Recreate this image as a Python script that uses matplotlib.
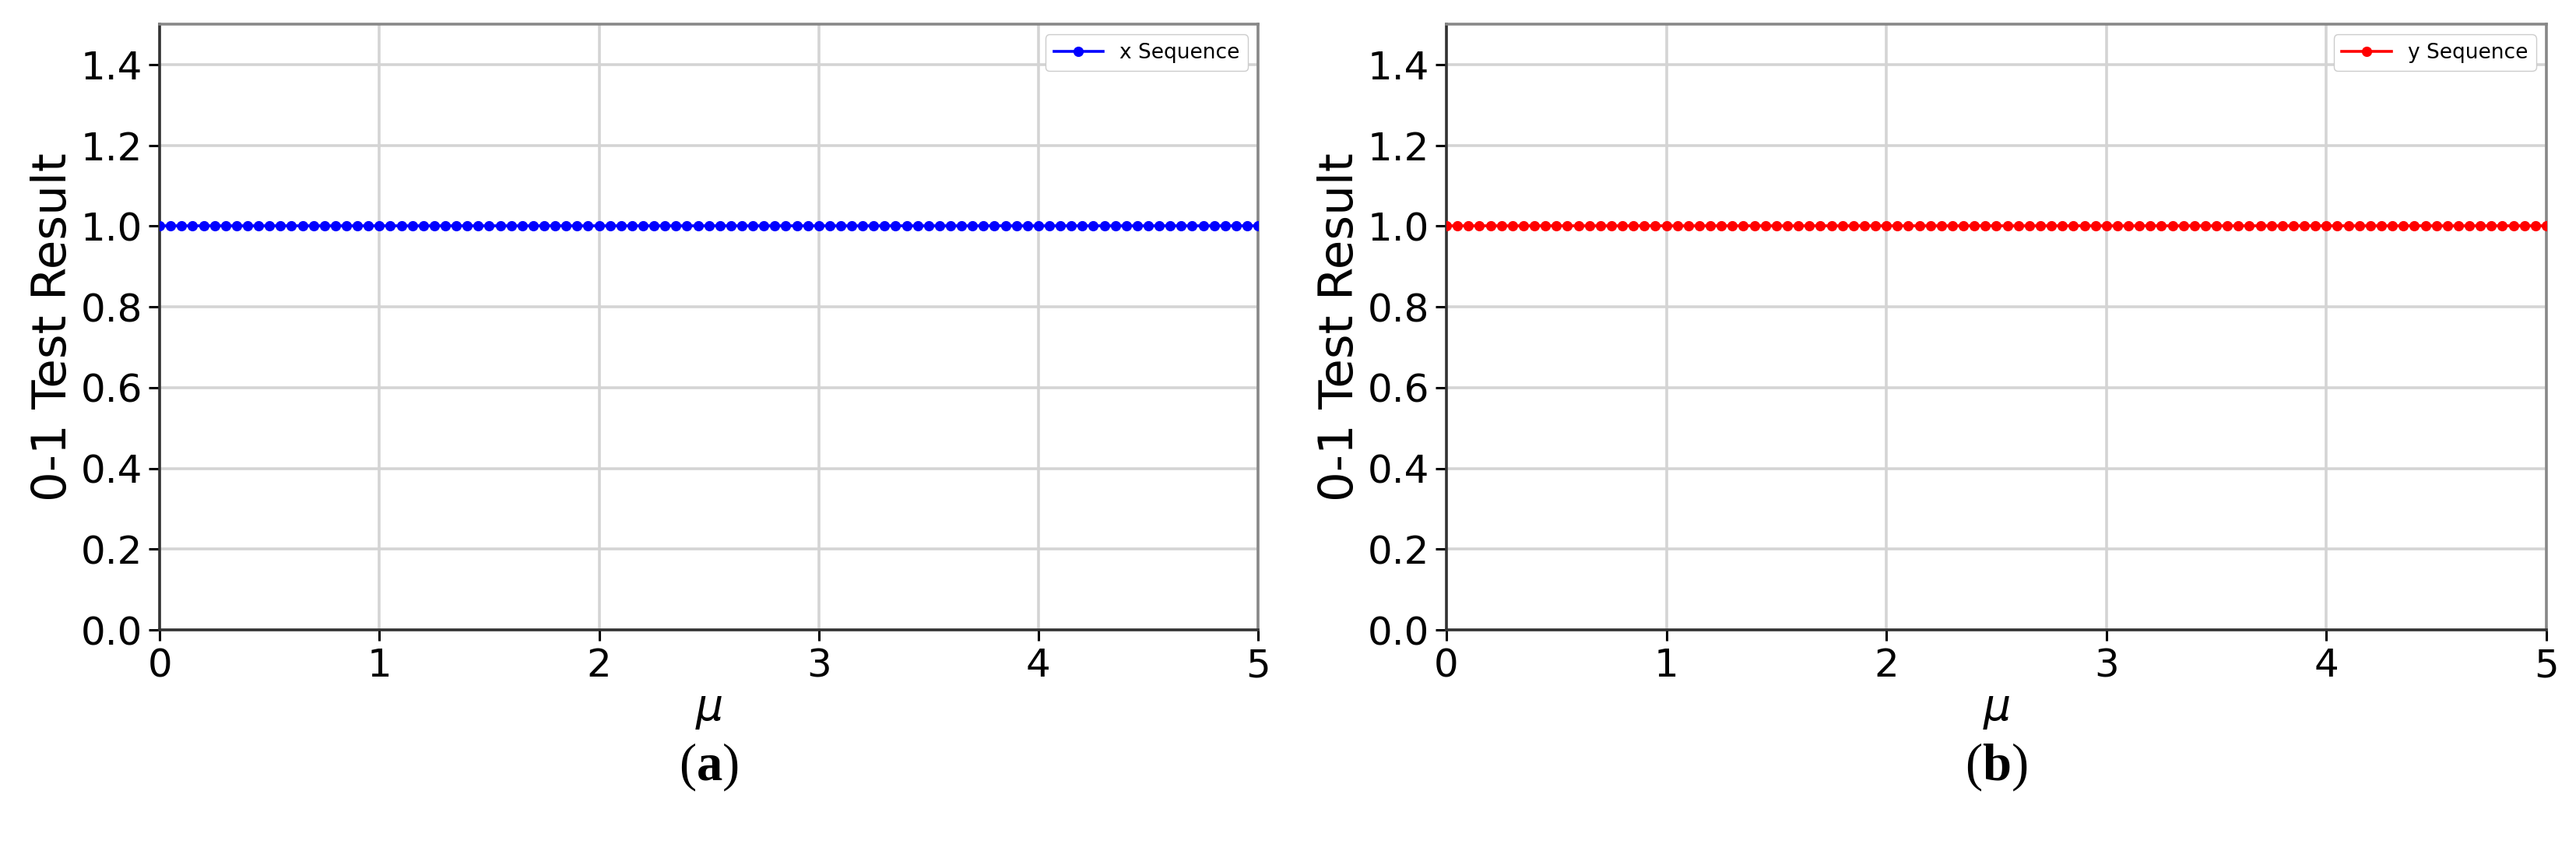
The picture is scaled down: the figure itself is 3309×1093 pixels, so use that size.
import matplotlib
matplotlib.use('Agg')
import matplotlib.pyplot as plt

plt.rcParams['mathtext.fontset'] = 'custom'
plt.rcParams['mathtext.it'] = 'DejaVu Sans:italic'
plt.rcParams['mathtext.rm'] = 'Liberation Serif'
plt.rcParams['mathtext.bf'] = 'Liberation Serif:bold'

# mu grid and 0-1 test results (constant at 1.0)
mu = [0.00, 0.05, 0.10, 0.15, 0.20, 0.25, 0.30, 0.35, 0.40, 0.45,
      0.50, 0.55, 0.60, 0.65, 0.70, 0.75, 0.80, 0.85, 0.90, 0.95,
      1.00, 1.05, 1.10, 1.15, 1.20, 1.25, 1.30, 1.35, 1.40, 1.45,
      1.50, 1.55, 1.60, 1.65, 1.70, 1.75, 1.80, 1.85, 1.90, 1.95,
      2.00, 2.05, 2.10, 2.15, 2.20, 2.25, 2.30, 2.35, 2.40, 2.45,
      2.50, 2.55, 2.60, 2.65, 2.70, 2.75, 2.80, 2.85, 2.90, 2.95,
      3.00, 3.05, 3.10, 3.15, 3.20, 3.25, 3.30, 3.35, 3.40, 3.45,
      3.50, 3.55, 3.60, 3.65, 3.70, 3.75, 3.80, 3.85, 3.90, 3.95,
      4.00, 4.05, 4.10, 4.15, 4.20, 4.25, 4.30, 4.35, 4.40, 4.45,
      4.50, 4.55, 4.60, 4.65, 4.70, 4.75, 4.80, 4.85, 4.90, 4.95,
      5.00]

x_result = [1, 1, 1, 1, 1, 1, 1, 1, 1, 1,
            1, 1, 1, 1, 1, 1, 1, 1, 1, 1,
            1, 1, 1, 1, 1, 1, 1, 1, 1, 1,
            1, 1, 1, 1, 1, 1, 1, 1, 1, 1,
            1, 1, 1, 1, 1, 1, 1, 1, 1, 1,
            1, 1, 1, 1, 1, 1, 1, 1, 1, 1,
            1, 1, 1, 1, 1, 1, 1, 1, 1, 1,
            1, 1, 1, 1, 1, 1, 1, 1, 1, 1,
            1, 1, 1, 1, 1, 1, 1, 1, 1, 1,
            1, 1, 1, 1, 1, 1, 1, 1, 1, 1,
            1]

y_result = [1, 1, 1, 1, 1, 1, 1, 1, 1, 1,
            1, 1, 1, 1, 1, 1, 1, 1, 1, 1,
            1, 1, 1, 1, 1, 1, 1, 1, 1, 1,
            1, 1, 1, 1, 1, 1, 1, 1, 1, 1,
            1, 1, 1, 1, 1, 1, 1, 1, 1, 1,
            1, 1, 1, 1, 1, 1, 1, 1, 1, 1,
            1, 1, 1, 1, 1, 1, 1, 1, 1, 1,
            1, 1, 1, 1, 1, 1, 1, 1, 1, 1,
            1, 1, 1, 1, 1, 1, 1, 1, 1, 1,
            1, 1, 1, 1, 1, 1, 1, 1, 1, 1,
            1]

xticks = [0, 1, 2, 3, 4, 5]
yticks = [0.0, 0.2, 0.4, 0.6, 0.8, 1.0, 1.2, 1.4]

fig = plt.figure(figsize=(33.09, 10.93), dpi=100)
ax1 = fig.add_axes([0.0620, 0.2598, 0.4264, 0.7118])
ax2 = fig.add_axes([0.5615, 0.2598, 0.4270, 0.7118])


def draw_panel(ax, values, color, label, tag):
    ax.plot(mu, values, color=color, marker='o', markersize=8.5,
            linewidth=2.6, label=label, zorder=3)
    ax.set_xlim(0, 5)
    ax.set_ylim(0, 1.5)
    ax.set_xticks(xticks)
    ax.set_yticks(yticks)
    ax.grid(True, color='#d4d4d4', linewidth=2.6)
    ax.set_axisbelow(True)
    ax.tick_params(labelsize=36, length=10, width=2.2, pad=6)
    ax.set_xlabel(r'$\mu$', fontsize=40, labelpad=4)
    ax.set_ylabel('0-1 Test Result', fontsize=44, labelpad=4)
    for side in ['top', 'right']:
        ax.spines[side].set_color('#888888')
        ax.spines[side].set_linewidth(2.6)
    for side in ['left', 'bottom']:
        ax.spines[side].set_color('#333333')
        ax.spines[side].set_linewidth(2.6)
    ax.legend(loc='upper right', fontsize=19, borderaxespad=0.5,
              handlelength=2.4, framealpha=1)
    ax.text(0.5, -0.226, tag, transform=ax.transAxes, ha='center', va='center',
            fontsize=48, family='Liberation Serif')


draw_panel(ax1, x_result, 'b', 'x Sequence', r'($\mathbf{a}$)')
draw_panel(ax2, y_result, 'r', 'y Sequence', r'($\mathbf{b}$)')

fig.savefig('out.png', dpi=100)
